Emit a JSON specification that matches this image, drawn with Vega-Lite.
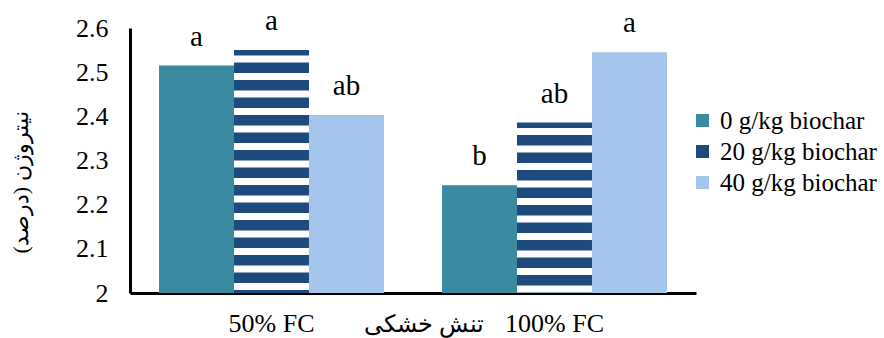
{
  "$schema": "https://vega.github.io/schema/vega-lite/v6.json",
  "width": 566,
  "height": 265,
  "autosize": {"type": "none"},
  "padding": {"left": 130, "top": 28, "right": 188, "bottom": 45},
  "background": "white",
  "config": {
    "view": {"stroke": null},
    "font": "Liberation Serif",
    "axis": {"labelFont": "Liberation Serif", "titleFont": "Liberation Serif"},
    "legend": {"labelFont": "Liberation Serif"},
    "text": {"font": "Liberation Serif"}
  },
  "data": {
    "values": [
      {"fc": "50% FC", "biochar": "0 g/kg biochar", "value": 2.515, "letter": "a"},
      {"fc": "50% FC", "biochar": "20 g/kg biochar", "value": 2.55, "letter": "a"},
      {"fc": "50% FC", "biochar": "40 g/kg biochar", "value": 2.403, "letter": "ab"},
      {"fc": "100% FC", "biochar": "0 g/kg biochar", "value": 2.244, "letter": "b"},
      {"fc": "100% FC", "biochar": "20 g/kg biochar", "value": 2.386, "letter": "ab"},
      {"fc": "100% FC", "biochar": "40 g/kg biochar", "value": 2.545, "letter": "a"}
    ]
  },
  "encoding": {
    "x": {
      "field": "fc",
      "type": "nominal",
      "sort": ["50% FC", "100% FC"],
      "scale": {"paddingInner": 0, "paddingOuter": 0},
      "axis": {
        "title": "تنش خشکی",
        "titleFont": "Liberation Serif",
        "titleFontSize": 24,
        "titleFontWeight": "normal",
        "titleColor": "black",
        "titleX": 293,
        "titleY": 38,
        "titleAnchor": null,
        "titleAlign": "center",
        "titleBaseline": "alphabetic",
        "labelAngle": 0,
        "labelFont": "Liberation Serif",
        "labelFontSize": 26,
        "labelColor": "black",
        "labelPadding": 17,
        "ticks": false,
        "domainColor": "black",
        "domainWidth": 3
      }
    },
    "xOffset": {
      "field": "biochar",
      "type": "nominal",
      "sort": ["0 g/kg biochar", "20 g/kg biochar", "40 g/kg biochar"],
      "scale": {"paddingInner": 0, "paddingOuter": 0.387}
    },
    "y": {
      "field": "value",
      "type": "quantitative",
      "scale": {"domain": [2, 2.6], "zero": false, "nice": false},
      "axis": {
        "title": "نیتروژن (درصد)",
        "titleFont": "Liberation Serif",
        "titleFontSize": 22,
        "titleFontWeight": "normal",
        "titleColor": "black",
        "titleAngle": -90,
        "titleX": -110,
        "titleY": 154,
        "titleAnchor": null,
        "titleAlign": "center",
        "titleBaseline": "middle",
        "values": [2, 2.1, 2.2, 2.3, 2.4, 2.5, 2.6],
        "format": ".1~f",
        "labelFont": "Liberation Serif",
        "labelFontSize": 26,
        "labelColor": "black",
        "labelPadding": 22,
        "ticks": false,
        "grid": false,
        "domainColor": "black",
        "domainWidth": 3
      }
    }
  },
  "layer": [
    {
      "mark": {"type": "bar", "stroke": null},
      "encoding": {
        "y2": {"datum": 2},
        "color": {
          "field": "biochar",
          "type": "nominal",
          "sort": ["0 g/kg biochar", "20 g/kg biochar", "40 g/kg biochar"],
          "scale": {"range": ["#3a8ba1", "#1f4a7d", "#a4c6ec"]},
          "legend": {
            "title": null,
            "orient": "none",
            "legendX": 560,
            "legendY": 80,
            "padding": 0,
            "symbolType": "square",
            "symbolSize": 169,
            "symbolStrokeWidth": 0,
            "labelFont": "Liberation Serif",
            "labelFontSize": 25,
            "labelColor": "black",
            "labelOffset": 5,
            "rowPadding": 5,
            "labelLimit": 300
          }
        }
      }
    },
    {
      "transform": [{"filter": "datum.biochar == '20 g/kg biochar'"}],
      "mark": {"type": "rule", "color": "white", "strokeWidth": 75, "strokeDash": [7, 10.5], "strokeDashOffset": 12},
      "encoding": {
        "y2": {"datum": 2}
      }
    },
    {
      "mark": {"type": "text", "font": "Liberation Serif", "fontSize": 29, "color": "black", "dy": -20, "baseline": "alphabetic"},
      "encoding": {
        "text": {"field": "letter"}
      }
    }
  ]
}
